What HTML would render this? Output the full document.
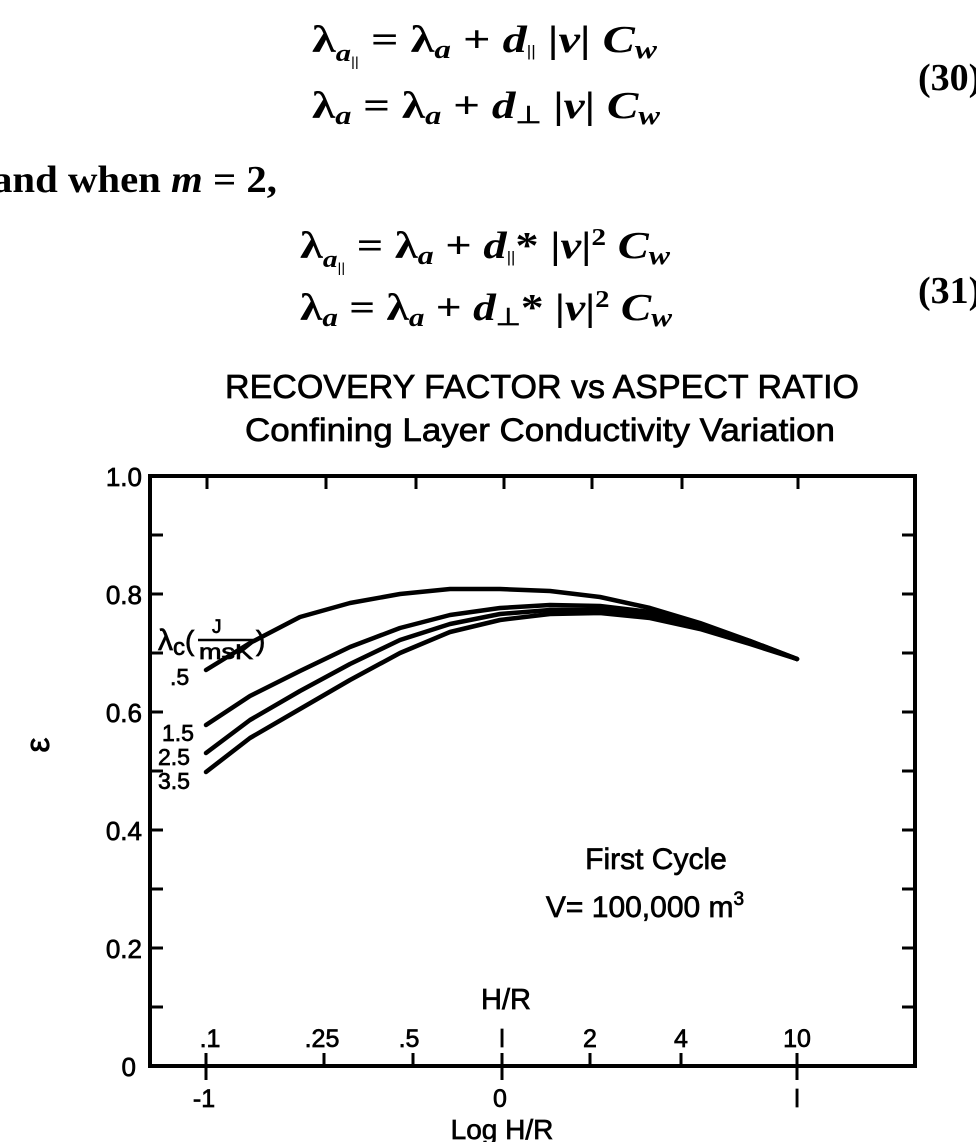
<!DOCTYPE html>
<html><head><meta charset="utf-8"><style>
html,body{margin:0;padding:0;background:#fff;}
svg{display:block}
.s{font-family:"Liberation Sans",sans-serif;fill:#000;stroke:#000;stroke-width:0.7}
.r{font-family:"Liberation Serif",serif;fill:#000;font-weight:bold}
.i{font-style:italic}
</style></head><body>
<svg width="976" height="1142" viewBox="0 0 976 1142" xmlns="http://www.w3.org/2000/svg">
<g class="r" font-size="38">
<text x="312" y="52" textLength="345" lengthAdjust="spacingAndGlyphs"><tspan>λ</tspan><tspan class="i" font-size="24" dy="9">a</tspan><tspan font-size="14" dy="5">||</tspan><tspan dy="-14"> = λ</tspan><tspan class="i" font-size="26" dy="6">a</tspan><tspan dy="-6"> + </tspan><tspan class="i">d</tspan><tspan font-size="16" dy="4">||</tspan><tspan dy="-4"> |</tspan><tspan class="i">v</tspan><tspan>| </tspan><tspan class="i">C</tspan><tspan class="i" font-size="26" dy="6">w</tspan></text>
<text x="312" y="118" textLength="348" lengthAdjust="spacingAndGlyphs"><tspan>λ</tspan><tspan class="i" font-size="26" dy="6">a</tspan><tspan dy="-6">  = λ</tspan><tspan class="i" font-size="26" dy="6">a</tspan><tspan dy="-6"> + </tspan><tspan class="i">d</tspan><tspan font-size="24" dy="5">⊥</tspan><tspan dy="-5"> |</tspan><tspan class="i">v</tspan><tspan>| </tspan><tspan class="i">C</tspan><tspan class="i" font-size="26" dy="6">w</tspan></text>
<text x="918" y="90">(30)</text>
<text x="-8" y="192" textLength="285" lengthAdjust="spacingAndGlyphs">and when <tspan class="i">m</tspan> = 2,</text>
<text x="300" y="258" textLength="370" lengthAdjust="spacingAndGlyphs"><tspan>λ</tspan><tspan class="i" font-size="24" dy="9">a</tspan><tspan font-size="14" dy="5">||</tspan><tspan dy="-14"> = λ</tspan><tspan class="i" font-size="26" dy="6">a</tspan><tspan dy="-6"> + </tspan><tspan class="i">d</tspan><tspan font-size="16" dy="4">||</tspan><tspan dy="-4">* |</tspan><tspan class="i">v</tspan><tspan>|</tspan><tspan font-size="24" dy="-13">2</tspan><tspan dy="13"> </tspan><tspan class="i">C</tspan><tspan class="i" font-size="26" dy="6">w</tspan></text>
<text x="300" y="320" textLength="372" lengthAdjust="spacingAndGlyphs"><tspan>λ</tspan><tspan class="i" font-size="26" dy="6">a</tspan><tspan dy="-6">  = λ</tspan><tspan class="i" font-size="26" dy="6">a</tspan><tspan dy="-6"> + </tspan><tspan class="i">d</tspan><tspan font-size="24" dy="5">⊥</tspan><tspan dy="-5">* |</tspan><tspan class="i">v</tspan><tspan>|</tspan><tspan font-size="24" dy="-13">2</tspan><tspan dy="13"> </tspan><tspan class="i">C</tspan><tspan class="i" font-size="26" dy="6">w</tspan></text>
<text x="918" y="303">(31)</text>
</g>
<text class="s" x="225" y="398" font-size="33" textLength="634" lengthAdjust="spacingAndGlyphs">RECOVERY FACTOR vs ASPECT RATIO</text>
<text class="s" x="245" y="441" font-size="32" textLength="590" lengthAdjust="spacingAndGlyphs">Confining Layer Conductivity Variation</text>
<g stroke="#000" stroke-width="4" fill="none">
<rect x="150" y="476" width="765" height="590"/>
</g>
<g stroke="#000" stroke-width="3">
<line x1="150" y1="535" x2="163" y2="535"/><line x1="150" y1="594" x2="163" y2="594"/>
<line x1="150" y1="653" x2="163" y2="653"/><line x1="150" y1="712" x2="163" y2="712"/>
<line x1="150" y1="771" x2="163" y2="771"/><line x1="150" y1="830" x2="163" y2="830"/>
<line x1="150" y1="889" x2="163" y2="889"/><line x1="150" y1="948" x2="163" y2="948"/>
<line x1="150" y1="1007" x2="163" y2="1007"/>
<line x1="902" y1="535" x2="915" y2="535"/><line x1="902" y1="594" x2="915" y2="594"/>
<line x1="902" y1="653" x2="915" y2="653"/><line x1="902" y1="712" x2="915" y2="712"/>
<line x1="902" y1="771" x2="915" y2="771"/><line x1="902" y1="830" x2="915" y2="830"/>
<line x1="902" y1="889" x2="915" y2="889"/><line x1="902" y1="948" x2="915" y2="948"/>
<line x1="902" y1="1007" x2="915" y2="1007"/>
<line x1="207" y1="476" x2="207" y2="489"/><line x1="326" y1="476" x2="326" y2="489"/>
<line x1="416" y1="476" x2="416" y2="489"/><line x1="504" y1="476" x2="504" y2="489"/>
<line x1="592" y1="476" x2="592" y2="489"/><line x1="682" y1="476" x2="682" y2="489"/>
<line x1="798" y1="476" x2="798" y2="489"/>
<line x1="206" y1="1053" x2="206" y2="1080"/><line x1="324" y1="1053" x2="324" y2="1066"/>
<line x1="413" y1="1053" x2="413" y2="1066"/><line x1="502" y1="1053" x2="502" y2="1080"/>
<line x1="590" y1="1053" x2="590" y2="1066"/><line x1="681" y1="1053" x2="681" y2="1066"/>
<line x1="797" y1="1053" x2="797" y2="1080"/>
</g>
<g stroke="#000" stroke-width="4.5" fill="none" stroke-linejoin="round" stroke-linecap="round">
<polyline points="206,670 250,643 300,617 350,603 400,594 450,589 500,589 550,591 600,597 650,608 700,623 750,641 797,659"/>
<polyline points="206,725 250,696 300,671 350,647 400,628 450,615 500,608 550,605 600,606 650,612 700,625 750,641 797,659"/>
<polyline points="206,753 250,720 300,691 350,664 400,640 450,624 500,614 550,610 600,610 650,615 700,627 750,642 797,659"/>
<polyline points="206,772 250,738 300,709 350,680 400,653 450,632 500,620 550,614 600,613 650,618 700,629 750,644 797,659"/>
</g>
<g class="s" font-size="26" text-anchor="end">
<text x="142" y="486">1.0</text>
<text x="142" y="604">0.8</text>
<text x="142" y="722">0.6</text>
<text x="142" y="840">0.4</text>
<text x="142" y="958">0.2</text>
<text x="136" y="1076">0</text>
</g>
<text class="s" x="40" y="754" font-size="34" text-anchor="middle" transform="rotate(-90 40 745)">ε</text>
<g class="s">
<text x="158" y="650" font-size="30">λ<tspan font-size="24" dy="5">c</tspan><tspan font-size="28" dy="-5">(</tspan></text>
<text x="212" y="633" font-size="19">J</text>
<line x1="198" y1="640" x2="255" y2="640" stroke="#000" stroke-width="2.5"/>
<text x="199" y="659" font-size="21" textLength="54" lengthAdjust="spacingAndGlyphs">msK</text>
<text x="256" y="650" font-size="28">)</text>
<text x="170" y="685" font-size="23">.5</text>
<text x="162" y="741" font-size="23">1.5</text>
<text x="158" y="765" font-size="23">2.5</text>
<text x="158" y="789" font-size="23">3.5</text>
</g>
<g class="s" font-size="30" text-anchor="middle">
<text x="656" y="869">First Cycle</text>
<text x="645" y="917">V= 100,000 m<tspan font-size="19" dy="-12">3</tspan></text>
<text x="506" y="1009" font-size="29">H/R</text>
</g>
<g class="s" font-size="25" text-anchor="middle">
<text x="210" y="1047">.1</text><text x="322" y="1047">.25</text>
<text x="409" y="1047">.5</text><text x="502" y="1047">l</text>
<text x="590" y="1047">2</text><text x="681" y="1047">4</text>
<text x="797" y="1047">10</text>
<text x="204" y="1107">-1</text><text x="500" y="1107">0</text><text x="797" y="1107">l</text>
<text x="502" y="1139" font-size="28">Log H/R</text>
</g>
</svg>
</body></html>
